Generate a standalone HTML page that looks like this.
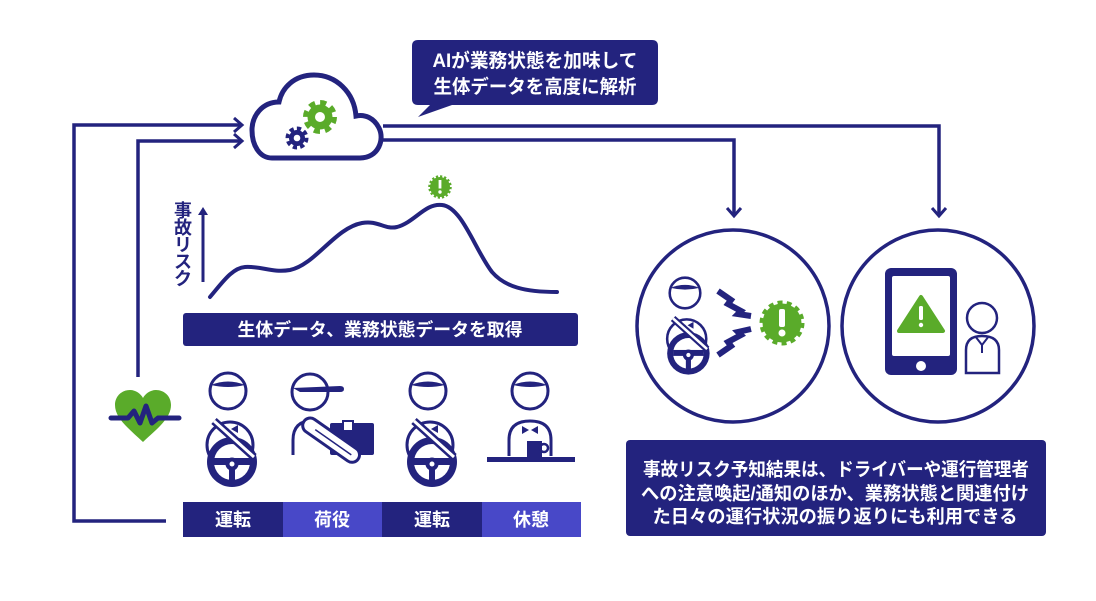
<!DOCTYPE html>
<html><head><meta charset="utf-8"><style>
html,body{margin:0;padding:0;background:#fff;}
svg{display:block;}
text{font-family:"Liberation Sans","Noto Sans CJK JP",sans-serif;}
</style></head><body>
<svg width="1096" height="601" viewBox="0 0 1096 601" xmlns="http://www.w3.org/2000/svg">
<rect width="1096" height="601" fill="#fff"/>
<g fill="none" stroke="#23237e" stroke-width="3.5">
  <polyline points="166,521 74,521 74,125 241,125"/>
  <polyline points="234,118 242,125 234,132" stroke-width="3"/>
  <polyline points="138,377 138,141 241,141"/>
  <polyline points="234,134 242,141 234,148" stroke-width="3"/>
  <polyline points="383,126 939,126 939,215"/>
  <polyline points="932,208 939,216 946,208" stroke-width="3"/>
  <polyline points="383,140 734,140 734,215"/>
  <polyline points="727,208 734,216 741,208" stroke-width="3"/>
</g>

<!-- Cloud -->
<path d="M272,158 L360,158 C378,158 385,140 379,128 C374,118 365,114 356,116 C354,92 336,75 314,75 C294,75 282,88 279,102 C262,102 252,116 252,130 C252,146 260,158 272,158 Z" fill="#fff" stroke="#23237e" stroke-width="5"/>
<g>
  <circle cx="320" cy="117" r="12.5" fill="#5aab2a"/>
  <circle cx="320" cy="117" r="14" fill="none" stroke="#5aab2a" stroke-width="6" stroke-dasharray="6 5"/>
  <circle cx="320" cy="117" r="5" fill="#fff"/>
  <circle cx="297" cy="138" r="8" fill="#23237e"/>
  <circle cx="297" cy="138" r="9" fill="none" stroke="#23237e" stroke-width="5" stroke-dasharray="4 3"/>
  <circle cx="297" cy="138" r="3.3" fill="#fff"/>
</g>

<!-- Speech bubble -->
<path d="M418,40 H652 Q658,40 658,46 V99 Q658,105 652,105 H452 L418,117 L430,105 H418 Q412,105 412,99 V46 Q412,40 418,40 Z" fill="#23237e"/>
<text x="535" y="67" fill="#fff" font-size="19" text-anchor="middle" font-weight="bold" textLength="205" lengthAdjust="spacingAndGlyphs">AIが業務状態を加味して</text>
<text x="535" y="93" fill="#fff" font-size="19" text-anchor="middle" font-weight="bold" textLength="203" lengthAdjust="spacingAndGlyphs">生体データを高度に解析</text>

<!-- Chart -->
<g fill="#23237e" font-size="18" text-anchor="middle" font-weight="bold">
  <text x="183" y="217">事</text>
  <text x="183" y="234">故</text>
  <text x="183" y="251">リ</text>
  <text x="183" y="268">ス</text>
  <text x="183" y="285">ク</text>
</g>
<line x1="203" y1="282" x2="203" y2="214" stroke="#23237e" stroke-width="3"/>
<polygon points="203,207 198,215 208,215" fill="#23237e"/>
<path d="M210,297 C222,283 232,268 245,267 C262,266 272,273 290,270 C315,265 335,228 362,223 C378,220 385,230 397,227 C415,222 425,203 442,205 C462,207 475,250 492,272 C505,287 525,292 557,292" fill="none" stroke="#23237e" stroke-width="4" stroke-linecap="round"/>
<g>
  <circle cx="440" cy="187" r="10" fill="#5aab2a"/>
  <circle cx="440" cy="187" r="10.5" fill="none" stroke="#5aab2a" stroke-width="2.5" stroke-dasharray="2.2 1.9"/>
  <rect x="438.6" y="180" width="2.8" height="8.5" fill="#fff"/>
  <circle cx="440" cy="192" r="1.7" fill="#fff"/>
</g>

<rect x="183" y="313" width="395" height="33" rx="3" fill="#23237e"/>
<text x="380" y="336" fill="#fff" font-size="18" text-anchor="middle" font-weight="bold" textLength="285" lengthAdjust="spacingAndGlyphs">生体データ、業務状態データを取得</text>

<!-- Heart -->
<path d="M143,442 C128,428 115,418 115,405 C115,396 122,390 130,390 C136,390 141,394 143,398 C145,394 150,390 156,390 C164,390 171,396 171,405 C171,418 158,428 143,442 Z" fill="#5aab2a"/>
<polyline points="111,418 128,418 134,411 140,423 146,406 152,423 158,418 179,418" fill="none" stroke="#23237e" stroke-width="5" stroke-linecap="round" stroke-linejoin="round"/>

<!-- Driver 1 -->
<g transform="translate(228,391)">
  <circle cx="2" cy="54" r="23" fill="#fff" stroke="#23237e" stroke-width="3"/>
  <polygon points="-6,34 1,38 -6,42" fill="#23237e"/>
  <polygon points="10,34 3,38 10,42" fill="#23237e"/>
  <circle cx="4" cy="71" r="25" fill="#23237e"/>
  <circle cx="4" cy="71" r="18" fill="#fff"/>
  <rect x="-14" y="67" width="36" height="7" fill="#23237e"/>
  <circle cx="4" cy="73" r="6.5" fill="#23237e"/>
  <rect x="1" y="73" width="6" height="17" fill="#23237e"/>
  <circle cx="4" cy="73" r="2.5" fill="#fff"/>
  <line x1="-14" y1="30" x2="26" y2="66" stroke="#23237e" stroke-width="8"/>
  <line x1="-14" y1="30" x2="26" y2="66" stroke="#fff" stroke-width="3"/>
  <circle cx="0" cy="0" r="18" fill="#fff" stroke="#23237e" stroke-width="3"/>
  <path d="M-17,-6 Q0,-13 17,-6 Q0,-2 -17,-6 Z" fill="#23237e"/>
</g>

<!-- Driver 2 -->
<g transform="translate(428,391)">
  <circle cx="2" cy="54" r="23" fill="#fff" stroke="#23237e" stroke-width="3"/>
  <polygon points="-6,34 1,38 -6,42" fill="#23237e"/>
  <polygon points="10,34 3,38 10,42" fill="#23237e"/>
  <circle cx="4" cy="71" r="25" fill="#23237e"/>
  <circle cx="4" cy="71" r="18" fill="#fff"/>
  <rect x="-14" y="67" width="36" height="7" fill="#23237e"/>
  <circle cx="4" cy="73" r="6.5" fill="#23237e"/>
  <rect x="1" y="73" width="6" height="17" fill="#23237e"/>
  <circle cx="4" cy="73" r="2.5" fill="#fff"/>
  <line x1="-14" y1="30" x2="26" y2="66" stroke="#23237e" stroke-width="8"/>
  <line x1="-14" y1="30" x2="26" y2="66" stroke="#fff" stroke-width="3"/>
  <circle cx="0" cy="0" r="18" fill="#fff" stroke="#23237e" stroke-width="3"/>
  <path d="M-17,-6 Q0,-13 17,-6 Q0,-2 -17,-6 Z" fill="#23237e"/>
</g>

<!-- Loader -->
<g>
  <path d="M293,455 L293,440 Q293,421 313,420" fill="none" stroke="#23237e" stroke-width="3"/>
  <rect x="330" y="423" width="44" height="32" rx="2" fill="#23237e"/>
  <rect x="343" y="421" width="10" height="10" fill="#fff" stroke="#23237e" stroke-width="2"/>
  <g transform="rotate(35 330 440)">
    <rect x="298" y="432" width="66" height="15" rx="7.5" fill="#fff" stroke="#23237e" stroke-width="3"/>
    <line x1="312" y1="440" x2="356" y2="440" stroke="#23237e" stroke-width="1.5"/>
  </g>
  <circle cx="310" cy="392" r="18" fill="#fff" stroke="#23237e" stroke-width="3"/>
  <path d="M293,388 L340,386 Q344,386 344,389 Q344,392 340,392 L300,392 Z" fill="#23237e"/>
</g>

<!-- Resting person -->
<g>
  <path d="M509,456 L509,440 Q509,421 530,421 Q551,421 551,440 L551,456" fill="#fff" stroke="#23237e" stroke-width="3"/>
  <polygon points="522,426 529,430 522,434" fill="#23237e"/>
  <polygon points="538,426 531,430 538,434" fill="#23237e"/>
  <circle cx="530" cy="391" r="18" fill="#fff" stroke="#23237e" stroke-width="3"/>
  <path d="M513,385 Q530,378 547,385 Q530,389 513,385 Z" fill="#23237e"/>
  <rect x="527" y="441" width="15" height="16" fill="#23237e"/>
  <circle cx="544" cy="448" r="4" fill="none" stroke="#23237e" stroke-width="2.5"/>
  <rect x="487" y="457" width="88" height="5" fill="#23237e"/>
</g>

<!-- Label bar -->
<rect x="183" y="502" width="100" height="35" fill="#23237e"/>
<rect x="283" y="502" width="99" height="35" fill="#4848c8"/>
<rect x="382" y="502" width="100" height="35" fill="#23237e"/>
<rect x="482" y="502" width="99" height="35" fill="#4848c8"/>
<g fill="#fff" font-size="18" text-anchor="middle" font-weight="bold">
  <text x="233" y="526">運転</text>
  <text x="332" y="526">荷役</text>
  <text x="432" y="526">運転</text>
  <text x="531" y="526">休憩</text>
</g>

<!-- Circle 1 -->
<circle cx="733" cy="326" r="96" fill="#fff" stroke="#23237e" stroke-width="3.5"/>
<g transform="translate(685,293) scale(0.85)">
  <circle cx="2" cy="54" r="23" fill="#fff" stroke="#23237e" stroke-width="3"/>
  <polygon points="-6,34 1,38 -6,42" fill="#23237e"/>
  <polygon points="10,34 3,38 10,42" fill="#23237e"/>
  <circle cx="4" cy="71" r="25" fill="#23237e"/>
  <circle cx="4" cy="71" r="18" fill="#fff"/>
  <rect x="-14" y="67" width="36" height="7" fill="#23237e"/>
  <circle cx="4" cy="73" r="6.5" fill="#23237e"/>
  <rect x="1" y="73" width="6" height="17" fill="#23237e"/>
  <circle cx="4" cy="73" r="2.5" fill="#fff"/>
  <line x1="-14" y1="30" x2="26" y2="66" stroke="#23237e" stroke-width="8"/>
  <line x1="-14" y1="30" x2="26" y2="66" stroke="#fff" stroke-width="3"/>
  <circle cx="0" cy="0" r="18" fill="#fff" stroke="#23237e" stroke-width="3"/>
  <path d="M-17,-6 Q0,-13 17,-6 Q0,-2 -17,-6 Z" fill="#23237e"/>
</g>
<g fill="none" stroke="#23237e" stroke-width="6" stroke-linejoin="miter">
  <polyline points="718,291 731,300 728,304 741,311 738,314 751,316"/>
  <polyline points="718,355 731,346 728,342 741,335 738,332 751,329"/>
</g>
<g>
  <circle cx="782" cy="323" r="19.5" fill="#5aab2a"/>
  <circle cx="782" cy="323" r="20.5" fill="none" stroke="#5aab2a" stroke-width="4" stroke-dasharray="5 4.2"/>
  <rect x="779" y="309" width="6" height="18" rx="2" fill="#fff"/>
  <circle cx="782" cy="333" r="3.5" fill="#fff"/>
</g>

<!-- Circle 2 -->
<circle cx="938" cy="326" r="96" fill="#fff" stroke="#23237e" stroke-width="3.5"/>
<rect x="885" y="268" width="72" height="107" rx="6" fill="#23237e"/>
<rect x="892" y="276" width="58" height="80" rx="2" fill="#fff"/>
<circle cx="921" cy="366" r="5" fill="#fff"/>
<polygon points="921,297 943,331 899,331" fill="#5aab2a" stroke="#5aab2a" stroke-width="4" stroke-linejoin="round"/>
<rect x="919" y="306" width="4" height="14" rx="1.5" fill="#fff"/>
<circle cx="921" cy="325" r="2.2" fill="#fff"/>
<g fill="#fff" stroke="#23237e" stroke-width="2.5">
  <path d="M966,373 L966,350 Q966,336 982,336 Q999,336 999,350 L999,373 Z"/>
  <circle cx="982" cy="318" r="15"/>
  <path d="M975,336 L982,345 L989,336" fill="none" stroke-width="2"/>
  <line x1="982" y1="345" x2="982" y2="353" stroke-width="2"/>
</g>

<!-- Text box -->
<rect x="626" y="440" width="420" height="96" rx="4" fill="#23237e"/>
<g fill="#fff" font-size="18.5" text-anchor="middle" font-weight="bold">
  <text x="836" y="476" textLength="386" lengthAdjust="spacingAndGlyphs">事故リスク予知結果は、ドライバーや運行管理者</text>
  <text x="835" y="500" textLength="388" lengthAdjust="spacingAndGlyphs">への注意喚起/通知のほか、業務状態と関連付け</text>
  <text x="835" y="523" textLength="365" lengthAdjust="spacingAndGlyphs">た日々の運行状況の振り返りにも利用できる</text>
</g>
</svg>
</body></html>
